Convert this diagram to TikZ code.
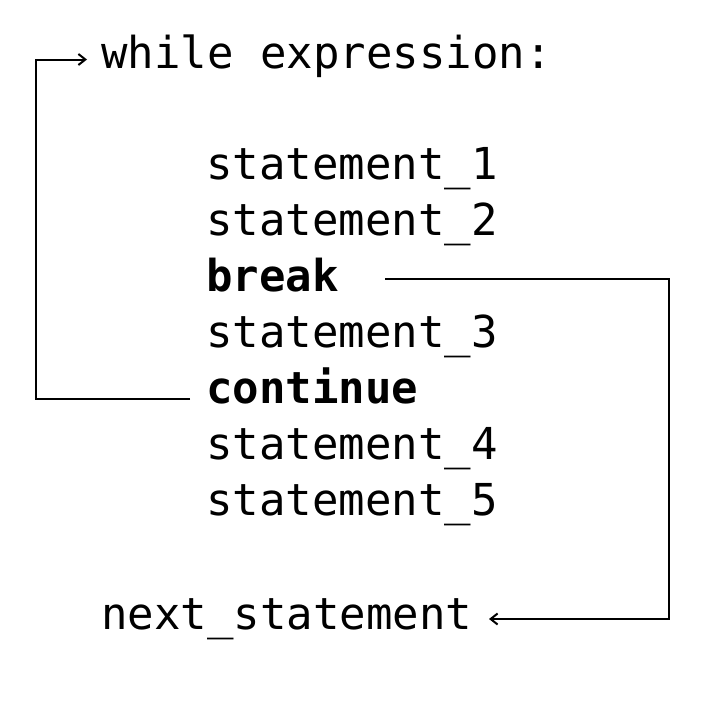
\documentclass[tikz,border=0pt]{standalone}
\usepackage{fontspec}
\setmonofont{DejaVu Sans Mono}
\usetikzlibrary{arrows.meta}
\begin{document}
\begin{tikzpicture}[x=1pt,y=-1pt,
  code/.style={font=\ttfamily\fontsize{44}{52}\selectfont, anchor=base west, inner sep=0pt},
  kw/.style={code, font=\ttfamily\bfseries\fontsize{44}{52}\selectfont},
  conn/.style={line width=2pt, -{Straight Barb[length=7pt,width=11pt,line width=2pt]}},
  plain/.style={line width=2pt}]
\useasboundingbox (0,0) rectangle (703,701);
\node[code] (wh)   at (101,68)  {while expression:};
\node[code] (s1)   at (206,179) {statement\_1};
\node[code] (s2)   at (206,235) {statement\_2};
\node[kw]   (brk)  at (206,291) {break};
\node[code] (s3)   at (206,347) {statement\_3};
\node[kw]   (cont) at (206,403) {continue};
\node[code] (s4)   at (206,459) {statement\_4};
\node[code] (s5)   at (206,515) {statement\_5};
\node[code] (nx)   at (101,629) {next\_statement};
% continue loop
\coordinate (cOut) at (190,399);
\coordinate (wIn)  at (87,59.5);
\draw[conn] (cOut) -- (36,399) -- (36,59.5) -- (wIn);
% break exit
\coordinate (bOut) at (385,279);
\coordinate (nIn)  at (489,619);
\draw[conn] (bOut) -- (669,279) -- (669,619) -- (nIn);
\end{tikzpicture}
\end{document}
